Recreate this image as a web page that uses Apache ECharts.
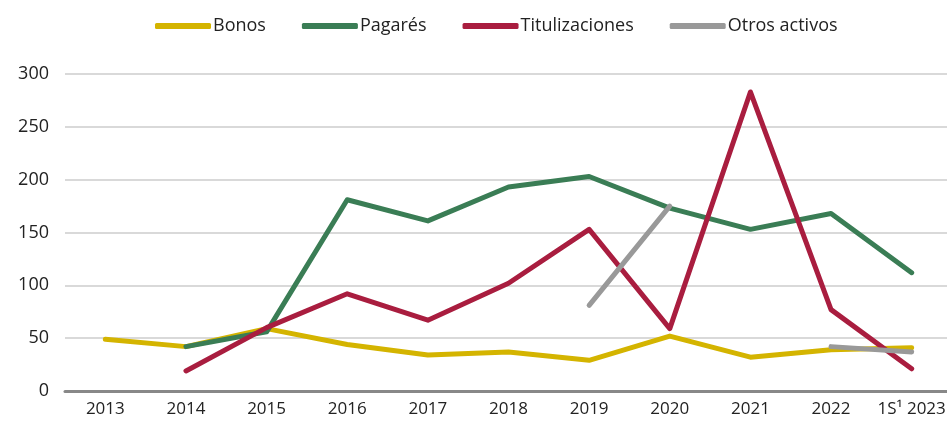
<!DOCTYPE html>
<html>
<head>
<meta charset="utf-8">
<script src="https://cdn.jsdelivr.net/npm/echarts@6/dist/echarts.min.js"></script>
<style>
  html, body { margin: 0; padding: 0; background: #fff; overflow: hidden; }
  #chart { width: 952px; height: 421px; }
</style>
</head>
<body>
<div id="chart"></div>
<script>
// categorías y series
var years = ['2013', '2014', '2015', '2016', '2017', '2018', '2019', '2020', '2021', '2022', '1S\u00b9 2023'];
var bonos = [49, 42, 59, 44, 34, 37, 29, 52, 32, 39, 41];
var pagares = [null, 42, 56, 181, 161, 193, 203, 173, 153, 168, 112];
var titulizaciones = [null, 19, 60, 92, 67, 102, 153, 59, 283, 77, 21];
var otros = [null, null, null, null, null, null, 81, 175, null, 42, 37];
var yTicks = [0, 50, 100, 150, 200, 250, 300];

var chart = echarts.init(document.getElementById('chart'));

function serie(name, data, color) {
  return {
    name: name,
    type: 'line',
    data: data,
    showSymbol: false,
    symbol: 'none',
    color: color,
    lineStyle: { width: 5, color: color, cap: 'round', join: 'round' }
  };
}

var option = {
  animation: false,
  textStyle: { fontFamily: 'Open Sans' },
  legend: {
    top: 12,
    left: 150,
    icon: 'roundRect',
    itemWidth: 56,
    itemHeight: 6,
    itemGap: 36,
    textStyle: { fontSize: 18, color: '#222', fontFamily: 'Open Sans', padding: [0, 0, 0, -3] }
  },
  grid: { left: 65, right: 0, top: 74, bottom: 30 },
  xAxis: {
    type: 'category',
    data: years,
    boundaryGap: true,
    axisLine: { lineStyle: { color: '#888', width: 3 } },
    axisTick: { show: false },
    axisLabel: { interval: 0, hideOverlap: false, fontSize: 17, color: '#222', margin: 10 }
  },
  yAxis: {
    type: 'value',
    min: yTicks[0],
    max: yTicks[yTicks.length - 1],
    interval: 50,
    axisLine: { show: false },
    axisTick: { show: false },
    axisLabel: { fontSize: 18, color: '#222', margin: 16 },
    splitLine: { lineStyle: { color: '#cccccc', width: 1.5 } }
  },
  series: [
    serie('Bonos', bonos, '#d4b400'),
    serie('Pagarés', pagares, '#3a7d55'),
    serie('Titulizaciones', titulizaciones, '#a91d3f'),
    serie('Otros activos', otros, '#999999')
  ]
};

chart.setOption(option);
</script>
</body>
</html>
